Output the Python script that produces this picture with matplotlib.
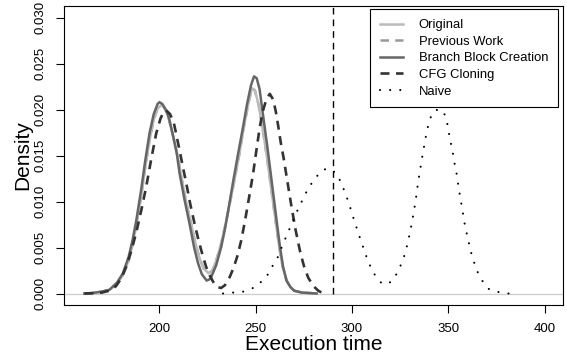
import matplotlib
matplotlib.use("Agg")
import matplotlib.pyplot as plt

plt.rcParams['font.family'] = ['Liberation Sans', 'DejaVu Sans']

# density curves (x = execution time, y = density)
orig_x = [161, 165, 170, 174, 178, 181, 184, 186, 188, 190.5, 192.5, 194.8, 197, 199, 201, 202.5, 204.5, 206,
          208, 210, 211.4, 214, 216.6, 219, 221, 223, 225.5, 227.5, 229.5, 232, 234.5, 237, 239.1, 241.5, 244,
          246, 248, 249.5, 251.5, 253.5, 255.5, 257.2, 258.8, 260.5, 262.2, 264, 266, 268, 270, 274, 281.6]
orig_y = [0, .00005, .0002, .0004, .0011, .0020, .0036, .0053, .0075, .0106, .0136, .0166, .0189, .0201, .0205,
          .0202, .0193, .0180, .0163, .0143, .0126, .0098, .0074, .0052, .0037, .0027, .0022, .0025, .0036,
          .0054, .0077, .0103, .0125, .0152, .0183, .0205, .0223, .0221, .0205, .0180, .0153, .0127, .0102,
          .0076, .0051, .0029, .0014, .0007, .0003, .0001, 0]

# previous work sits exactly under the original curve
prev_x = list(orig_x)
prev_y = list(orig_y)

branch_x = [161, 165, 170, 174, 178, 181, 184, 186, 188, 190.5, 192.5, 194.8, 197, 199, 200, 201.5, 203.5, 205,
            207, 209, 210.4, 213, 215.6, 218, 220, 222, 224.5, 226.5, 229.5, 232, 234, 236, 238.2, 240.5, 243.4,
            245.5, 247.5, 249.1, 250.5, 252, 254.3, 256, 257.5, 259, 260.8, 262.5, 264.2, 266, 268, 270, 274, 281.6]
branch_y = [0, .00005, .0002, .0004, .0012, .0022, .0040, .0058, .0080, .0113, .0143, .0174, .0195, .0206, .0208,
            .0206, .0199, .0190, .0172, .0152, .0131, .0102, .0076, .0050, .0033, .0021, .0014, .0016, .0031,
            .0050, .0070, .0094, .0121, .0148, .0181, .0206, .0226, .0236, .0234, .0222, .0186, .0160, .0135,
            .0110, .0080, .0052, .0029, .0014, .0007, .0003, .0001, 0]

cfg_x = [161, 166, 170, 174, 177.4, 180, 182.7, 185.3, 187.9, 190.5, 193.1, 195.7, 198.3, 200.5, 202, 203.5,
         205.5, 207.5, 209, 210.4, 212, 213.9, 216, 218.2, 220.4, 222.6, 225, 227.8, 230, 232, 234, 236.5, 238.5,
         240.5, 242.5, 244.5, 246.5, 248.6, 250.3, 252.1, 253.8, 255.5, 257.3, 259, 260.4, 261.6, 263, 264.5,
         266.5, 268.6, 270.7, 272.9, 275, 277.3, 280, 282.5, 285.1]
cfg_y = [0, .00003, .0001, .0003, .0008, .0016, .0029, .0046, .0066, .0090, .0116, .0146, .0174, .0190, .0197,
         .0199, .0195, .0185, .0170, .0156, .0139, .0120, .0097, .0076, .0057, .0040, .0024, .0013, .0007, .0006,
         .0009, .0018, .0028, .0041, .0058, .0080, .0104, .0130, .0155, .0181, .0199, .0211, .0217, .0211, .0198,
         .0183, .0164, .0147, .0121, .0094, .0069, .0047, .0030, .0017, .0008, .0003, 0]

naive_x = [233, 238.2, 243.4, 248.6, 253, 256.4, 259, 261.6, 263.6, 267.7, 272, 276.7, 280, 282.8, 285, 287.1,
           289, 291.5, 294.3, 298.1, 301.2, 304.5, 308, 310.5, 312.8, 315, 316.8, 319, 321.5, 324.1, 326.2, 327.8,
           329, 330.2, 331.2, 332.1, 333, 333.7, 334.4, 335.3, 336.1, 337, 337.9, 338.9, 340.1, 341.5, 343.2, 345,
           346.9, 348.5, 349.3, 350.2, 351.2, 352.3, 353.1, 354.2, 354.9, 355.7, 356.6, 357.5, 358.3, 359.4,
           360.6, 361.8, 363.4, 365.1, 367.6, 371, 376.2, 381.4]
naive_y = [0, .0001, .0002, .0006, .0013, .0021, .0031, .0040, .0051, .0071, .0092, .0112, .0123, .0130, .0134,
           .0136, .0135, .0131, .0121, .0100, .0079, .0058, .0037, .0025, .0017, .0012, .0010, .0011, .0015, .0025,
           .0035, .0045, .0056, .0067, .0078, .0089, .0100, .0111, .0122, .0133, .0144, .0155, .0165, .0177,
           .0187, .0195, .0199, .0200, .0199, .0193, .0187, .0176, .0165, .0154, .0143, .0132, .0122, .0111,
           .0100, .0089, .0078, .0067, .0056, .0045, .0034, .0024, .0014, .0005, .00015, 0]

deadline = 290
x_ticks = [200, 250, 300, 350, 400]
y_ticks = [0.0, 0.005, 0.010, 0.015, 0.020, 0.025, 0.030]
x_range = (150.4, 409.6)
y_range = (-0.00125, 0.03125)

fig = plt.figure(figsize=(5.67, 3.6), dpi=100)
ax = fig.add_axes([64 / 567, 55 / 360, 499 / 567, 299 / 360])

ax.axhline(0, color="#cccccc", lw=0.9, zorder=1)

ax.plot(orig_x, orig_y, color="#bbbbbb", lw=1.8, label="Original", zorder=3)
ax.plot(prev_x, prev_y, color="#999999", lw=1.8, dashes=(3.4, 2.5), label="Previous Work", zorder=2)
ax.plot(branch_x, branch_y, color="#666666", lw=1.8, label="Branch Block Creation", zorder=4)
ax.plot(cfg_x, cfg_y, color="#333333", lw=1.9, dashes=(3.4, 2.5), label="CFG Cloning", zorder=5)
ax.plot(naive_x, naive_y, color="black", lw=1.5, linestyle=(0, (0.05, 4.8)), dash_capstyle="round",
        label="Naive", zorder=6)
ax.plot([deadline, deadline], [0, y_range[1]], color="black", lw=1.0, linestyle=(0, (4.8, 3.6)), zorder=6)

ax.set_xlim(*x_range)
ax.set_ylim(*y_range)
ax.set_xticks(x_ticks)
ax.set_yticks(y_ticks)
ax.set_yticklabels(["{:.3f}".format(v) for v in y_ticks])
for lab in ax.get_yticklabels():
    lab.set_rotation(90)
    lab.set_va("center")

ax.tick_params(direction="out", length=5.8, width=0.8, labelsize=9.5, colors="black")
ax.tick_params(axis="x", pad=7.5)
ax.tick_params(axis="y", pad=6.5)
for s in ax.spines.values():
    s.set_linewidth(0.8)
    s.set_color("black")

ax.set_xlabel("Execution time", fontsize=15)
ax.set_ylabel("Density", fontsize=15)
ax.xaxis.set_label_coords(0.5, -0.100)
ax.yaxis.set_label_coords(-0.063, 0.5)

leg = ax.legend(loc="upper right", bbox_to_anchor=(558 / 567, 1 - 9.3 / 360), bbox_transform=fig.transFigure,
                fancybox=False, edgecolor="black", framealpha=1, fontsize=9.4, handlelength=1.75,
                handletextpad=1.2, labelspacing=0.34, borderpad=0.75, borderaxespad=0)
leg.get_frame().set_linewidth(0.8)

fig.savefig("out.png", dpi=100)
